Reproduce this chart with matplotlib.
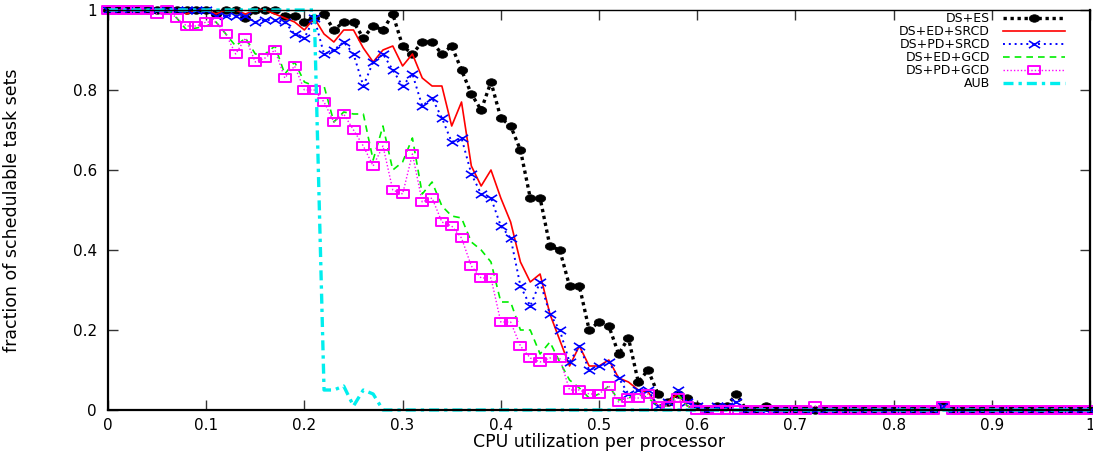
import matplotlib
matplotlib.use("Agg")
import matplotlib.pyplot as plt
from matplotlib.path import Path
from matplotlib.transforms import Affine2D

plt.rcParams['font.family'] = ['DejaVu Sans']

utilization = [
    0.00, 0.01, 0.02, 0.03, 0.04, 0.05, 0.06, 0.07, 0.08, 0.09,
    0.10, 0.11, 0.12, 0.13, 0.14, 0.15, 0.16, 0.17, 0.18, 0.19,
    0.20, 0.21, 0.22, 0.23, 0.24, 0.25, 0.26, 0.27, 0.28, 0.29,
    0.30, 0.31, 0.32, 0.33, 0.34, 0.35, 0.36, 0.37, 0.38, 0.39,
    0.40, 0.41, 0.42, 0.43, 0.44, 0.45, 0.46, 0.47, 0.48, 0.49,
    0.50, 0.51, 0.52, 0.53, 0.54, 0.55, 0.56, 0.57, 0.58, 0.59,
    0.60, 0.61, 0.62, 0.63, 0.64, 0.65, 0.66, 0.67, 0.68, 0.69,
    0.70, 0.71, 0.72, 0.73, 0.74, 0.75, 0.76, 0.77, 0.78, 0.79,
    0.80, 0.81, 0.82, 0.83, 0.84, 0.85, 0.86, 0.87, 0.88, 0.89,
    0.90, 0.91, 0.92, 0.93, 0.94, 0.95, 0.96, 0.97, 0.98, 0.99,
    1.00,
]

ds_es = [
    1.00, 1.00, 1.00, 1.00, 1.00, 1.00, 1.00, 1.00, 1.00, 1.00,
    1.00, 0.99, 1.00, 1.00, 0.98, 1.00, 1.00, 1.00, 0.985, 0.985,
    0.97, 0.98, 0.99, 0.95, 0.97, 0.97, 0.93, 0.96, 0.95, 0.99,
    0.91, 0.89, 0.92, 0.92, 0.89, 0.91, 0.85, 0.79, 0.75, 0.82,
    0.73, 0.71, 0.65, 0.53, 0.53, 0.41, 0.40, 0.31, 0.31, 0.20,
    0.22, 0.21, 0.14, 0.18, 0.07, 0.10, 0.04, 0.02, 0.04, 0.03,
    0.01, 0.00, 0.01, 0.01, 0.04, 0.00, 0.00, 0.01, 0.00, 0.00,
    0.00, 0.00, 0.00, 0.00, 0.00, 0.00, 0.00, 0.00, 0.00, 0.00,
    0.00, 0.00, 0.00, 0.00, 0.00, 0.01, 0.00, 0.00, 0.00, 0.00,
    0.00, 0.00, 0.00, 0.00, 0.00, 0.00, 0.00, 0.00, 0.00, 0.00,
    0.00,
]

ds_ed_srcd = [
    1.00, 1.00, 1.00, 1.00, 1.00, 1.00, 1.00, 1.00, 0.99, 1.00,
    1.00, 0.99, 1.00, 1.00, 0.99, 1.00, 1.00, 0.99, 0.98, 0.97,
    0.95, 0.98, 0.94, 0.92, 0.95, 0.95, 0.905, 0.87, 0.90, 0.91,
    0.86, 0.89, 0.83, 0.81, 0.81, 0.71, 0.77, 0.61, 0.56, 0.60,
    0.53, 0.47, 0.37, 0.32, 0.34, 0.24, 0.175, 0.11, 0.16, 0.11,
    0.11, 0.125, 0.08, 0.07, 0.05, 0.045, 0.01, 0.02, 0.04, 0.01,
    0.00, 0.00, 0.00, 0.00, 0.00, 0.00, 0.00, 0.00, 0.00, 0.00,
    0.00, 0.00, 0.00, 0.00, 0.00, 0.00, 0.00, 0.00, 0.00, 0.00,
    0.00, 0.00, 0.00, 0.00, 0.00, 0.00, 0.00, 0.00, 0.00, 0.00,
    0.00, 0.00, 0.00, 0.00, 0.00, 0.00, 0.00, 0.00, 0.00, 0.00,
    0.00,
]

ds_pd_srcd = [
    1.00, 1.00, 1.00, 1.00, 1.00, 1.00, 1.00, 1.00, 1.00, 1.00,
    1.00, 0.985, 0.985, 0.985, 0.985, 0.97, 0.975, 0.975, 0.97, 0.94,
    0.93, 0.98, 0.89, 0.90, 0.92, 0.89, 0.81, 0.87, 0.89, 0.85,
    0.81, 0.84, 0.76, 0.78, 0.73, 0.67, 0.68, 0.59, 0.54, 0.53,
    0.46, 0.43, 0.31, 0.26, 0.32, 0.24, 0.20, 0.12, 0.16, 0.10,
    0.11, 0.12, 0.08, 0.04, 0.05, 0.05, 0.01, 0.02, 0.05, 0.02,
    0.01, 0.00, 0.01, 0.01, 0.02, 0.00, 0.00, 0.00, 0.00, 0.00,
    0.00, 0.00, 0.00, 0.00, 0.00, 0.00, 0.00, 0.00, 0.00, 0.00,
    0.00, 0.00, 0.00, 0.00, 0.00, 0.01, 0.00, 0.00, 0.00, 0.00,
    0.00, 0.00, 0.00, 0.00, 0.00, 0.00, 0.00, 0.00, 0.00, 0.00,
    0.00,
]

ds_ed_gcd = [
    1.00, 1.00, 1.00, 1.00, 1.00, 1.00, 1.00, 0.98, 0.95, 0.955,
    0.96, 0.97, 0.94, 0.91, 0.93, 0.89, 0.89, 0.91, 0.84, 0.87,
    0.82, 0.81, 0.81, 0.72, 0.745, 0.74, 0.74, 0.625, 0.71, 0.60,
    0.62, 0.68, 0.54, 0.57, 0.51, 0.485, 0.48, 0.42, 0.40, 0.37,
    0.27, 0.27, 0.20, 0.20, 0.14, 0.17, 0.12, 0.075, 0.055, 0.03,
    0.04, 0.06, 0.025, 0.03, 0.04, 0.03, 0.01, 0.01, 0.04, 0.01,
    0.00, 0.00, 0.00, 0.00, 0.00, 0.00, 0.00, 0.00, 0.00, 0.00,
    0.00, 0.00, 0.00, 0.00, 0.00, 0.00, 0.00, 0.00, 0.00, 0.00,
    0.00, 0.00, 0.00, 0.00, 0.00, 0.00, 0.00, 0.00, 0.00, 0.00,
    0.00, 0.00, 0.00, 0.00, 0.00, 0.00, 0.00, 0.00, 0.00, 0.00,
    0.00,
]

ds_pd_gcd = [
    1.00, 1.00, 1.00, 1.00, 1.00, 0.99, 1.00, 0.98, 0.96, 0.96,
    0.97, 0.97, 0.94, 0.89, 0.93, 0.87, 0.88, 0.90, 0.83, 0.86,
    0.80, 0.80, 0.77, 0.72, 0.74, 0.70, 0.66, 0.61, 0.66, 0.55,
    0.54, 0.64, 0.52, 0.53, 0.47, 0.46, 0.43, 0.36, 0.33, 0.33,
    0.22, 0.22, 0.16, 0.13, 0.12, 0.13, 0.13, 0.05, 0.05, 0.04,
    0.04, 0.06, 0.02, 0.03, 0.03, 0.04, 0.01, 0.01, 0.03, 0.01,
    0.00, 0.00, 0.00, 0.00, 0.00, 0.00, 0.00, 0.00, 0.00, 0.00,
    0.00, 0.00, 0.01, 0.00, 0.00, 0.00, 0.00, 0.00, 0.00, 0.00,
    0.00, 0.00, 0.00, 0.00, 0.00, 0.01, 0.00, 0.00, 0.00, 0.00,
    0.00, 0.00, 0.00, 0.00, 0.00, 0.00, 0.00, 0.00, 0.00, 0.00,
    0.00,
]

aub = [
    1.00, 1.00, 1.00, 1.00, 1.00, 1.00, 1.00, 1.00, 1.00, 1.00,
    1.00, 1.00, 1.00, 1.00, 1.00, 1.00, 1.00, 1.00, 1.00, 1.00,
    1.00, 1.00, 0.05, 0.05, 0.06, 0.01, 0.05, 0.04, 0.00, 0.00,
    0.00, 0.00, 0.00, 0.00, 0.00, 0.00, 0.00, 0.00, 0.00, 0.00,
    0.00, 0.00, 0.00, 0.00, 0.00, 0.00, 0.00, 0.00, 0.00, 0.00,
    0.00, 0.00, 0.00, 0.00, 0.00, 0.00, 0.00, 0.00, 0.00, 0.00,
    0.00, 0.00, 0.00, 0.00, 0.00, 0.00, 0.00, 0.00, 0.00, 0.00,
    0.00, 0.00, 0.00, 0.00, 0.00, 0.00, 0.00, 0.00, 0.00, 0.00,
    0.00, 0.00, 0.00, 0.00, 0.00, 0.00, 0.00, 0.00, 0.00, 0.00,
    0.00, 0.00, 0.00, 0.00, 0.00, 0.00, 0.00, 0.00, 0.00, 0.00,
    0.00,
]

series_labels = ["DS+ES", "DS+ED+SRCD", "DS+PD+SRCD", "DS+ED+GCD", "DS+PD+GCD", "AUB"]

x_ticks = [0, 0.1, 0.2, 0.3, 0.4, 0.5, 0.6, 0.7, 0.8, 0.9, 1.0]
x_tick_labels = ["0", "0.1", "0.2", "0.3", "0.4", "0.5", "0.6", "0.7", "0.8", "0.9", "1"]
y_ticks = [0, 0.2, 0.4, 0.6, 0.8, 1.0]
y_tick_labels = ["0", "0.2", "0.4", "0.6", "0.8", "1"]

# wide (horizontally stretched) marker shapes, as in the gnuplot output
ellipse_marker = Path.unit_circle().transformed(Affine2D().scale(1.0, 0.72))
cross_marker = Path([(-1.0, -0.65), (1.0, 0.65), (-1.0, 0.65), (1.0, -0.65)],
                    [Path.MOVETO, Path.LINETO, Path.MOVETO, Path.LINETO])
rect_marker = Path([(-1.0, -0.62), (1.0, -0.62), (1.0, 0.62), (-1.0, 0.62), (-1.0, -0.62)],
                   [Path.MOVETO, Path.LINETO, Path.LINETO, Path.LINETO, Path.CLOSEPOLY])

fig = plt.figure(figsize=(10.93, 4.54), dpi=100)
ax = fig.add_axes([108 / 1093, 44 / 454, 982 / 1093, 400 / 454])

ax.plot(utilization, ds_es, color="black", lw=2.4, linestyle=(0, (1, 1.1)),
        marker=ellipse_marker, markersize=7.5, markerfacecolor="black",
        markeredgecolor="black", markeredgewidth=0.5,
        label=series_labels[0], clip_on=False)
ax.plot(utilization, ds_ed_srcd, color="#ff0000", lw=1.2, linestyle="-",
        label=series_labels[1], clip_on=False)
ax.plot(utilization, ds_pd_srcd, color="#0000ff", lw=1.4, linestyle=(0, (1, 2)),
        marker=cross_marker, markersize=8, markeredgewidth=1.2,
        markerfacecolor="none", markeredgecolor="#0000ff",
        label=series_labels[2], clip_on=False)
ax.plot(utilization, ds_ed_gcd, color="#00ee00", lw=1.2, linestyle=(0, (4, 3)),
        label=series_labels[3], clip_on=False)
ax.plot(utilization, ds_pd_gcd, color="#ff00ff", lw=1.0, linestyle=(0, (1, 1.5)),
        marker=rect_marker, markersize=8.5, markerfacecolor="none",
        markeredgecolor="#ff00ff", markeredgewidth=1.4,
        label=series_labels[4], clip_on=False)
ax.plot(utilization, aub, color="#00eeee", lw=2.4, linestyle=(0, (3, 1.5, 1, 1.5)),
        label=series_labels[5], clip_on=False)

ax.set_xlim(0, 1)
ax.set_ylim(0, 1)
ax.set_xticks(x_ticks)
ax.set_xticklabels(x_tick_labels)
ax.set_yticks(y_ticks)
ax.set_yticklabels(y_tick_labels)

ax.tick_params(axis="both", which="major", direction="in", length=7, width=1,
               top=True, right=True, labelsize=11, color="#333333")
ax.tick_params(axis="x", pad=6)
ax.tick_params(axis="y", pad=8)

for side in ["left", "bottom", "right"]:
    ax.spines[side].set_linewidth(1.6)
ax.spines["top"].set_linewidth(1.0)

ax.set_xlabel("CPU utilization per processor", fontsize=12.5)
ax.xaxis.set_label_coords(0.5, -0.058)
ax.set_ylabel("fraction of schedulable task sets", fontsize=12.5)
ax.yaxis.set_label_coords(-0.0885, 0.5)

leg = ax.legend(loc="upper right", bbox_to_anchor=(0.9746, 0.995),
                frameon=False, markerfirst=False, fontsize=9,
                handlelength=5.0, handletextpad=1.0, labelspacing=0.0,
                borderpad=0, borderaxespad=0, numpoints=1)

fig.savefig("out.png", dpi=100)
